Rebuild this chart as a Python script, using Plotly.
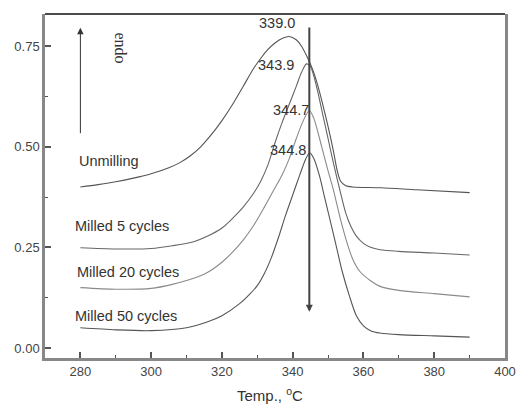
import plotly.graph_objects as go

# ---- data ----
series_names = ["Unmilling", "Milled 5 cycles", "Milled 20 cycles", "Milled 50 cycles"]

t_unmilling = [280, 285, 290, 295, 300, 305, 308, 311, 314, 317, 320, 323, 326, 329, 331, 333, 335,
               337, 339, 341, 342.5, 344, 345.5, 347, 348.5, 350, 351.5, 352.6, 353.5, 355, 357,
               365, 375, 390]
v_unmilling = [0.400, 0.406, 0.413, 0.422, 0.433, 0.448, 0.460, 0.477, 0.500, 0.530, 0.565, 0.605,
               0.650, 0.695, 0.720, 0.742, 0.758, 0.769, 0.774, 0.766, 0.750, 0.725, 0.695, 0.655,
               0.605, 0.550, 0.490, 0.440, 0.415, 0.403, 0.400, 0.398, 0.393, 0.386]

t_m5 = [280, 290, 300, 306, 312, 316, 320, 323, 326, 329, 331, 333, 335, 337, 339, 341, 342.5,
        343.9, 345, 346, 347, 348.5, 350, 351.5, 353.4, 355, 356.3, 358, 360, 362, 364.7, 370,
        380, 390]
v_m5 = [0.249, 0.246, 0.247, 0.254, 0.264, 0.278, 0.298, 0.322, 0.350, 0.385, 0.415, 0.455, 0.510,
        0.560, 0.605, 0.650, 0.685, 0.706, 0.700, 0.675, 0.640, 0.580, 0.520, 0.460, 0.390, 0.335,
        0.305, 0.278, 0.260, 0.250, 0.244, 0.240, 0.236, 0.231]

t_m20 = [280, 290, 300, 306, 312, 316, 320, 323, 326, 329, 332, 334.5, 337, 339, 341, 343, 344.7,
         346, 347, 348.5, 350, 351.5, 353.5, 355.4, 357, 359, 362, 364.7, 370, 380, 390]
v_m20 = [0.150, 0.146, 0.148, 0.158, 0.173, 0.188, 0.213, 0.238, 0.268, 0.305, 0.350, 0.390, 0.430,
         0.470, 0.520, 0.565, 0.590, 0.570, 0.540, 0.490, 0.440, 0.393, 0.320, 0.260, 0.220, 0.190,
         0.167, 0.153, 0.143, 0.135, 0.127]

t_m50 = [280, 290, 300, 310, 316, 320, 325, 328, 330, 332, 334, 336, 338, 340, 342, 343.6, 344.8,
         346, 347.5, 349, 350.5, 352, 354, 356, 358, 360, 362, 364.7, 370, 380, 390]
v_m50 = [0.050, 0.045, 0.043, 0.050, 0.065, 0.080, 0.110, 0.135, 0.155, 0.185, 0.225, 0.275, 0.330,
         0.380, 0.430, 0.468, 0.485, 0.470, 0.430, 0.375, 0.320, 0.265, 0.190, 0.130, 0.080, 0.055,
         0.043, 0.037, 0.033, 0.030, 0.027]

peak_temps = [339.0, 343.9, 344.7, 344.8]

x_ticks = [280, 300, 320, 340, 360, 380, 400]
y_ticks = [0.00, 0.25, 0.50, 0.75]

series_t = [t_unmilling, t_m5, t_m20, t_m50]
series_v = [v_unmilling, v_m5, v_m20, v_m50]
line_colors = ["#555555", "#666666", "#8a8a8a", "#555555"]

# label positions (data coords)
name_pos = [(279, 0.465), (278, 0.303), (278.5, 0.189), (278, 0.080)]
peak_label_pos = [(335.6, 0.808), (335.4, 0.704), (339.6, 0.592), (338.8, 0.493)]

FONT = "Arial, Liberation Sans, sans-serif"

fig = go.Figure()
for t, v, c in zip(series_t, series_v, line_colors):
    fig.add_trace(go.Scatter(x=t, y=v, mode="lines",
                             line=dict(color=c, width=1.1, shape="spline", smoothing=0.8),
                             showlegend=False, hoverinfo="skip"))

annotations = []
for name, (x, y) in zip(series_names, name_pos):
    annotations.append(dict(x=x, y=y, xref="x", yref="y", text=name, showarrow=False,
                            xanchor="left", yanchor="middle",
                            font=dict(family=FONT, size=14.5, color="#333333")))
for p, (x, y) in zip(peak_temps, peak_label_pos):
    annotations.append(dict(x=x, y=y, xref="x", yref="y", text=f"{p:.1f}", showarrow=False,
                            xanchor="center", yanchor="middle",
                            font=dict(family=FONT, size=14.5, color="#333333")))

# big downward arrow
annotations.append(dict(x=344.7, y=0.09, ax=344.7, ay=0.80, xref="x", yref="y", axref="x", ayref="y",
                        text="", showarrow=True, arrowhead=2, arrowsize=0.7, arrowwidth=2,
                        arrowcolor="#444444"))
# endo arrow
annotations.append(dict(x=280, y=0.796, ax=280, ay=0.53, xref="x", yref="y", axref="x", ayref="y",
                        text="", showarrow=True, arrowhead=2, arrowsize=1.3, arrowwidth=1,
                        arrowcolor="#333333"))
annotations.append(dict(x=291.3, y=0.746, xref="x", yref="y", text="endo", showarrow=False,
                        textangle=90, font=dict(family="Liberation Serif, Times New Roman, serif",
                                                size=16, color="#333333")))
# x axis title
annotations.append(dict(x=0.49, y=-0.105, xref="paper", yref="paper", text="Temp., <sup>o</sup>C",
                        showarrow=False, xanchor="center", yanchor="middle",
                        font=dict(family=FONT, size=15, color="#333333")))

fig.update_layout(
    width=516, height=411,
    margin=dict(l=45, r=11, t=14, b=53, autoexpand=False),
    paper_bgcolor="white", plot_bgcolor="white",
    annotations=annotations,
    shapes=[dict(type="line", xref="paper", yref="paper", x0=0, x1=1, y0=1, y1=1,
                 line=dict(color="#111111", width=1.5))],
)
fig.update_xaxes(range=[270, 400], tickvals=x_ticks, ticktext=[str(v) for v in x_ticks],
                 ticks="inside", ticklen=6, tickwidth=1.5, tickcolor="#555555",
                 minor=dict(ticks="inside", ticklen=3, tickwidth=1.2, tickcolor="#555555",
                            tick0=270, dtick=10),
                 showline=True, linecolor="#888888", linewidth=2.5, mirror=False,
                 showgrid=False, zeroline=False, automargin=False,
                 tickfont=dict(family=FONT, size=13, color="#444444"))
fig.update_yaxes(range=[-0.025, 0.83], tickvals=y_ticks, ticktext=[f"{v:.2f}" for v in y_ticks],
                 ticks="inside", ticklen=6, tickwidth=1.5, tickcolor="#555555",
                 minor=dict(ticks="inside", ticklen=3, tickwidth=1.2, tickcolor="#555555",
                            tick0=0, dtick=0.125),
                 showline=True, linecolor="#888888", linewidth=2.5, mirror=True,
                 showgrid=False, zeroline=False, automargin=False,
                 tickfont=dict(family=FONT, size=13, color="#444444"))

fig.write_html("out.html")
